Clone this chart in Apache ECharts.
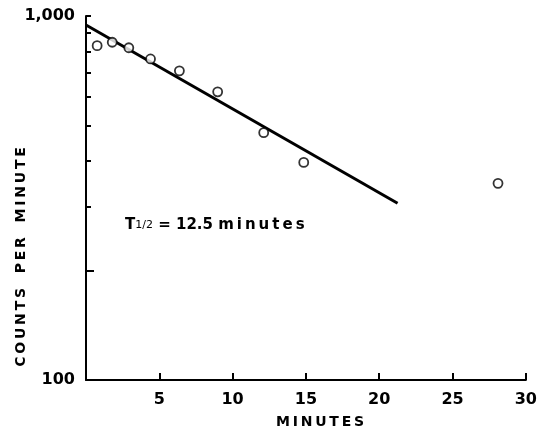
<!DOCTYPE html>
<html>
<head>
<meta charset="utf-8">
<script src="https://cdn.jsdelivr.net/npm/echarts@6/dist/echarts.min.js"></script>
<style>
  html, body { margin: 0; padding: 0; background: #fff; }
  #chart { width: 540px; height: 439px; }
</style>
</head>
<body>
<div id="chart"></div>
<script>
// measured counts (open circles)
const minutes = [0.76, 1.79, 2.92, 4.4, 6.37, 8.98, 12.12, 14.85, 28.1]
const counts = [829, 847, 818, 762, 707, 619, 478, 396, 347]
// fitted decay line, end points
const fitMinutes = [0, 21.25]
const fitCounts = [945, 306]
// axis ticks
const yTicks = [300, 400, 500, 600, 700, 800, 900, 1000]
const yLabels = [100, 1000]

const font = 'DejaVu Sans'
const ts = '\u2009' // thin space, used to spread the capital titles
const spread = s => s.split(' ').map(w => w.split('').join(ts)).join('   ')

let chart = echarts.init(document.getElementById('chart'))

chart.setOption({
  animation: false,
  grid: { left: 86, right: 13, top: 16, bottom: 59 },
  xAxis: {
    type: 'value',
    min: 0,
    max: 30,
    interval: 5,
    axisLine: { lineStyle: { color: '#000', width: 2 } },
    axisTick: { inside: true, length: 7, lineStyle: { color: '#000', width: 2 } },
    axisLabel: {
      margin: 12,
      color: '#000',
      fontFamily: font,
      fontWeight: 'bold',
      fontSize: 16,
      formatter: v => (v === 0 ? '' : String(v))
    },
    splitLine: { show: false }
  },
  yAxis: [
    {
      type: 'log',
      logBase: 10,
      min: 100,
      max: 1000,
      axisLine: { show: true, lineStyle: { color: '#000', width: 2 } },
      axisTick: { show: true, inside: true, length: 5, customValues: yTicks, lineStyle: { color: '#000', width: 2 } },
      axisLabel: {
        margin: 11,
        color: '#000',
        fontFamily: font,
        fontWeight: 'bold',
        fontSize: 16,
        customValues: yLabels,
        formatter: v => (v >= 1000 ? '1,000' : String(Math.round(v)))
      },
      splitLine: { show: false }
    },
    {
      // the longer tick at 200
      type: 'log',
      logBase: 10,
      min: 100,
      max: 1000,
      position: 'left',
      axisLine: { show: false },
      axisTick: { show: true, inside: true, length: 8, customValues: [200], lineStyle: { color: '#000', width: 2 } },
      axisLabel: { show: false },
      splitLine: { show: false }
    }
  ],
  series: [
    {
      type: 'line',
      data: fitMinutes.map((t, i) => [t, fitCounts[i]]),
      symbol: 'none',
      lineStyle: { color: '#000', width: 3 },
      z: 2
    },
    {
      type: 'scatter',
      data: minutes.map((t, i) => [t, counts[i]]),
      symbol: 'circle',
      symbolSize: 9,
      itemStyle: { color: '#fff', borderColor: '#000', borderWidth: 1.8 },
      z: 3
    }
  ],
  graphic: [
    {
      type: 'text',
      left: 125,
      top: 218,
      style: {
        text: '{t|T}{s|1/2}{t| = 12.5 ' + 'minutes'.split('').join(ts) + '}',
        rich: {
          t: { fontFamily: font, fontWeight: 'bold', fontSize: 15, fill: '#000' },
          s: { fontFamily: font, fontWeight: 'normal', fontSize: 11, fill: '#000' }
        }
      }
    },
    {
      type: 'text',
      x: 21,
      y: 257,
      rotation: Math.PI / 2,
      style: {
        text: spread('COUNTS PER MINUTE'),
        fontFamily: font,
        fontWeight: 'bold',
        fontSize: 14,
        fill: '#000',
        align: 'center',
        verticalAlign: 'middle'
      }
    },
    {
      type: 'text',
      x: 320,
      y: 422,
      style: {
        text: spread('MINUTES'),
        fontFamily: font,
        fontWeight: 'bold',
        fontSize: 14,
        fill: '#000',
        align: 'center',
        verticalAlign: 'middle'
      }
    }
  ]
})
</script>
</body>
</html>
